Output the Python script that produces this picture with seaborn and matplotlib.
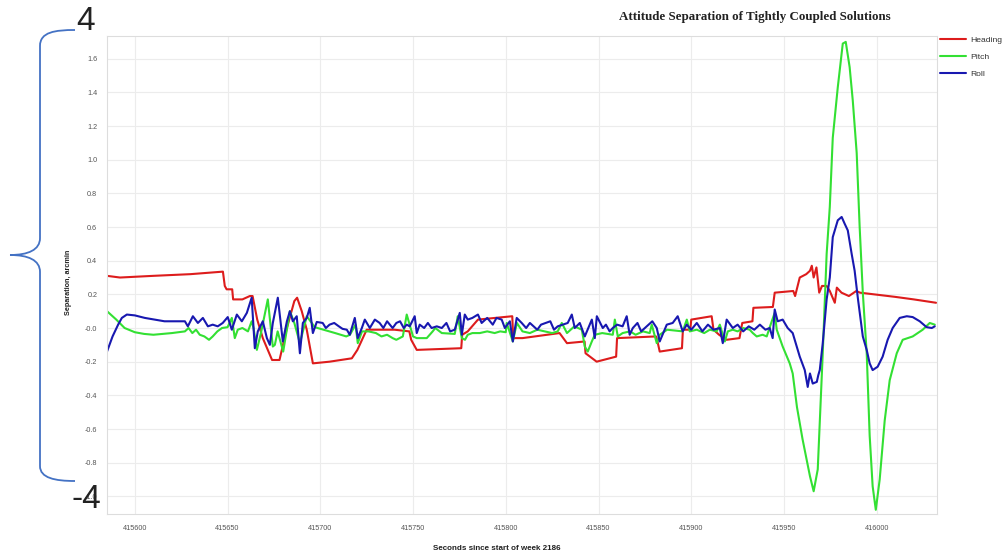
import numpy as np
import pandas as pd
import matplotlib
matplotlib.use("Agg")
import matplotlib.pyplot as plt
from matplotlib.path import Path
from matplotlib.patches import PathPatch
from matplotlib.lines import Line2D
import seaborn as sns

# ---------------- data ----------------
heading_t = [415585, 415592, 415610, 415630, 415647.5, 415648.5, 415649.5, 415652.5, 415653, 415658,
             415662, 415663.5, 415666, 415669, 415674, 415678, 415682, 415686, 415687.5, 415690,
             415692.7, 415696, 415705, 415717, 415720, 415725, 415740, 415748, 415749, 415752,
             415776, 415776.5, 415779.5, 415785, 415803.5, 415804, 415809, 415829, 415833, 415842.5,
             415843, 415849, 415859.5, 415860, 415881, 415882, 415883, 415895, 415895.5, 415899.5,
             415900, 415911, 415912, 415915, 415919, 415926, 415927.5, 415933, 415933.5, 415944,
             415945, 415955, 415956, 415958.5, 415962, 415964, 415965, 415966, 415967.5, 415969,
             415970.5, 415973, 415974.7, 415977.4, 415978.5, 415981, 415985, 415989, 415991, 416010,
             416020, 416032]
heading_v = [0.31, 0.30, 0.31, 0.32, 0.335, 0.25, 0.23, 0.23, 0.17, 0.17,
             0.19, 0.19, 0.05, -0.06, -0.19, -0.19, 0.0, 0.16, 0.18, 0.10,
             -0.01, -0.21, -0.20, -0.18, -0.13, -0.01, -0.01, -0.02, -0.07, -0.13,
             -0.12, -0.04, -0.02, 0.05, 0.07, -0.06, -0.06, -0.03, -0.09, -0.08,
             -0.15, -0.20, -0.17, -0.06, -0.05, -0.09, -0.14, -0.12, -0.01, -0.01,
             0.05, 0.07, -0.01, -0.04, -0.07, -0.06, 0.03, 0.04, 0.12, 0.125,
             0.21, 0.22, 0.19, 0.30, 0.32, 0.34, 0.37, 0.30, 0.36, 0.21,
             0.25, 0.25, 0.22, 0.15, 0.24, 0.21, 0.19, 0.22, 0.21, 0.185,
             0.17, 0.15]

pitch_t = [415585, 415590, 415594.5, 415600, 415605, 415610, 415620, 415627, 415629, 415631,
           415633, 415635, 415637.5, 415640, 415642, 415644.5, 415647, 415650, 415652.3, 415653.9,
           415655.5, 415658, 415661, 415663, 415664, 415665.8, 415668, 415671.7, 415674.4, 415675.5,
           415677, 415680, 415683.6, 415686, 415689, 415692.7, 415695.4, 415697, 415705, 415708,
           415711, 415714, 415716, 415719, 415720.2, 415722.5, 415726, 415730, 415733, 415736,
           415739, 415741, 415744.5, 415746.6, 415750, 415752, 415757.4, 415760.6, 415762, 415765.5,
           415772.5, 415774.1, 415776.3, 415778, 415779.5, 415782, 415786, 415790, 415794, 415797,
           415800, 415800.5, 415803.8, 415806, 415809, 415813, 415817, 415821, 415825, 415828,
           415830.2, 415833, 415837, 415841, 415842.6, 415844.2, 415846.4, 415848, 415852, 415857.7,
           415858.8, 415860.4, 415863, 415867, 415870, 415874, 415877.6, 415878.7, 415881.4, 415883,
           415887, 415895.4, 415897.6, 415899.2, 415903, 415907, 415910, 415913.7, 415915.4, 415918.1,
           415919.7, 415922.4, 415925, 415928, 415931.5, 415933.2, 415935.3, 415938.5, 415940.7, 415943.4,
           415945, 415946.1, 415949.3, 415953.1, 415954.7, 415957, 415960, 415964, 415966, 415968.2,
           415970.9, 415973, 415974.7, 415976.3, 415979, 415981.7, 415983.3, 415985.4, 415987.1, 415989.2,
           415990.8, 415992.5, 415994.6, 415996.2, 415997.8, 415999.5, 416001.6, 416004.3, 416007, 416010.8,
           416014, 416019.4, 416024.8, 416028.6, 416031.3]
pitch_v = [0.10, 0.05, 0.0, -0.025, -0.035, -0.04, -0.03, -0.02, 0.0, -0.03,
           -0.01, -0.04, -0.05, -0.07, -0.05, -0.02, 0.0, 0.005, 0.06, -0.06,
           -0.01, 0.0, -0.02, 0.04, 0.0, -0.13, -0.03, 0.17, -0.11, -0.10,
           -0.02, -0.14, 0.10, 0.03, -0.09, 0.07, 0.03, 0.005, -0.02, -0.03,
           -0.04, -0.05, -0.04, 0.02, -0.09, -0.02, -0.02, -0.03, -0.05, -0.04,
           -0.06, -0.07, -0.05, 0.08, -0.05, -0.06, -0.06, -0.02, 0.0, -0.03,
           -0.035, 0.07, -0.06, -0.07, -0.04, -0.03, -0.03, -0.02, -0.03, -0.02,
           -0.025, 0.03, -0.08, 0.03, -0.02, -0.03, -0.01, -0.02, -0.03, -0.02,
           0.03, -0.03, 0.01, -0.01, -0.11, -0.14, -0.08, -0.04, -0.03, -0.04,
           0.05, -0.05, -0.03, -0.02, -0.04, -0.02, -0.03, 0.02, -0.09, -0.04,
           -0.01, -0.02, 0.05, -0.02, -0.01, -0.03, -0.01, -0.02, 0.02, -0.08,
           -0.02, -0.01, -0.02, 0.0, -0.01, -0.03, -0.05, -0.04, -0.05, 0.04,
           0.09, -0.01, -0.11, -0.21, -0.27, -0.47, -0.66, -0.88, -0.97, -0.84,
           -0.15, 0.44, 0.72, 1.13, 1.43, 1.69, 1.70, 1.55, 1.35, 1.04,
           0.60, 0.21, -0.15, -0.64, -0.94, -1.08, -0.90, -0.55, -0.31, -0.15,
           -0.07, -0.05, -0.01, 0.03, 0.02]

roll_t = [415585, 415588, 415591, 415593, 415595.7, 415600, 415605.4, 415616, 415627, 415628.6,
          415631.3, 415634, 415636.7, 415639.4, 415642, 415644.7, 415647.4, 415650.1, 415652.3, 415655,
          415657.7, 415660.4, 415663, 415664.7, 415666.3, 415669, 415671.2, 415672.8, 415674.4, 415677.1,
          415679.8, 415682, 415683.6, 415685.2, 415687.3, 415689, 415690.6, 415692.7, 415694.3, 415696,
          415698.1, 415701.3, 415703, 415705, 415707.5, 415710, 415712, 415714.3, 415715.9, 415718.6,
          415720.2, 415722.4, 415724, 415726.7, 415729.4, 415732, 415734, 415736, 415739, 415741,
          415743, 415745, 415746.6, 415748.2, 415750.9, 415752, 415753.6, 415756, 415758, 415760,
          415762.8, 415765.5, 415768, 415770, 415772.5, 415775.2, 415776.3, 415777.9, 415779.5, 415782,
          415785, 415787, 415790, 415793, 415795, 415797.8, 415799.5, 415802.2, 415803.8, 415805.9,
          415808.6, 415811, 415813, 415817, 415819, 415824, 415826, 415828, 415833.4, 415835.6,
          415837.2, 415839.9, 415842.6, 415846.4, 415848, 415849.1, 415852.3, 415854, 415856, 415857.7,
          415860, 415863, 415865.2, 415866.8, 415868.5, 415871, 415873, 415876, 415879, 415881.4,
          415883, 415886.8, 415890, 415892.7, 415895.4, 415897.6, 415900, 415903, 415906, 415909,
          415912, 415915.4, 415917, 415919.1, 415922.4, 415925, 415928, 415931, 415934, 415937,
          415940, 415942.3, 415943.4, 415943.9, 415945, 415946.6, 415949.3, 415952, 415954.7, 415956.9,
          415958.5, 415961.2, 415962.8, 415964, 415965.5, 415967.7, 415968.5, 415969.3, 415970.9, 415973,
          415974.7, 415976.3, 415979, 415981.1, 415982.7, 415984.4, 415986.5, 415988.1, 415989.8, 415992.5,
          415994.6, 415996.2, 415997.8, 416000.5, 416003.2, 416005.9, 416008.6, 416012.4, 416016.2, 416019.4,
          416023.2, 416026.9, 416029.7, 416031.3]
roll_v = [-0.14, -0.05, 0.02, 0.06, 0.08, 0.075, 0.06, 0.04, 0.04, 0.01,
          0.07, 0.03, 0.06, 0.01, 0.02, 0.01, 0.03, 0.065, -0.01, 0.08,
          0.04, 0.09, 0.18, -0.12, -0.02, 0.04, -0.06, -0.10, 0.03, 0.18,
          -0.08, 0.04, 0.10, 0.04, 0.07, -0.15, 0.03, 0.06, 0.12, -0.03,
          0.036, 0.03, 0.0, 0.02, 0.03, 0.01, -0.005, -0.01, -0.04, 0.06,
          -0.06, 0.0, 0.05, 0.0, 0.05, 0.03, 0.0, 0.04, 0.0, 0.03,
          0.04, 0.0, 0.02, 0.01, 0.07, -0.03, 0.02, 0.0, 0.03, 0.0,
          0.01, 0.0, 0.03, -0.02, -0.01, 0.09, -0.04, 0.08, 0.05, 0.06,
          0.08, 0.03, 0.06, 0.02, 0.06, 0.05, 0.0, 0.04, -0.08, 0.06,
          0.03, 0.0, 0.03, -0.01, 0.02, 0.04, -0.01, 0.01, 0.03, 0.08,
          0.0, 0.03, -0.05, 0.05, -0.06, 0.07, 0.0, 0.02, -0.02, 0.0,
          0.02, 0.01, 0.07, -0.04, 0.0, 0.03, -0.02, 0.01, 0.04, 0.0,
          -0.08, 0.02, 0.03, 0.07, -0.02, 0.02, -0.01, 0.03, -0.02, 0.02,
          -0.01, 0.0, -0.09, 0.05, 0.0, 0.02, -0.02, 0.01, -0.01, 0.02,
          -0.01, 0.0, -0.04, -0.06, 0.11, 0.04, 0.05, 0.0, -0.03, -0.11,
          -0.17, -0.25, -0.35, -0.27, -0.33, -0.32, -0.28, -0.25, -0.09, 0.17,
          0.30, 0.54, 0.64, 0.66, 0.62, 0.58, 0.44, 0.34, 0.18, -0.05,
          -0.13, -0.21, -0.25, -0.23, -0.17, -0.07, 0.0, 0.06, 0.07, 0.065,
          0.04, 0.005, 0.0, 0.01]

x_ticks = [415600, 415650, 415700, 415750, 415800, 415850, 415900, 415950, 416000]
y_ticks = [-1.0, -0.8, -0.6, -0.4, -0.2, 0.0, 0.2, 0.4, 0.6, 0.8, 1.0, 1.2, 1.4, 1.6]
y_tick_labels = ["-1.0", "-0.8", "-0.6", "-0.4", "-0.2", "-0.0", "0.2", "0.4", "0.6",
                 "0.8", "1.0", "1.2", "1.4", "1.6"]
series_names = ["Heading", "Pitch", "Roll"]
series_colors = ["#dd1c1c", "#33e033", "#1818b0"]

title = "Attitude Separation of Tightly Coupled Solutions"
x_label = "Seconds since start of week 2186"
y_label = "Separation, arcmin"
bracket_top_label = "4"
bracket_bottom_label = "-4"

# ---------------- plot ----------------
sns.set_theme(style="whitegrid")
plt.rcParams["font.family"] = ["Liberation Sans", "DejaVu Sans"]

W, H = 1005, 555
fig = plt.figure(figsize=(W / 100, H / 100), dpi=100)
ax = fig.add_axes([107 / W, 1 - 514 / H, (937 - 107) / W, (514 - 36) / H])

frames = []
for name, t, v in zip(series_names, [heading_t, pitch_t, roll_t], [heading_v, pitch_v, roll_v]):
    frames.append(pd.DataFrame({"t": t, "v": v, "series": name}))
df = pd.concat(frames, ignore_index=True)

sns.lineplot(data=df, x="t", y="v", hue="series", hue_order=series_names,
             palette=series_colors, estimator=None, sort=False, linewidth=1.5, ax=ax,
             legend=False)

ax.set_xlim(415585, 416032.5)
ax.set_ylim(-1.105, 1.735)
ax.set_xticks(x_ticks)
ax.set_xticklabels([str(x) for x in x_ticks])
ax.set_yticks(y_ticks)
ax.set_yticklabels(y_tick_labels)
ax.tick_params(axis="both", length=0, labelsize=5.2, labelcolor="#555555")
ax.tick_params(axis="x", pad=8)
ax.tick_params(axis="y", pad=7)
ax.grid(True, color="#ececec", linewidth=0.8)
for s in ax.spines.values():
    s.set_color("#dddddd")
    s.set_linewidth(0.8)
ax.set_facecolor("white")
ax.set_xlabel("")
ax.set_ylabel("")

fig.text(497 / W, 1 - 548 / H, x_label, ha="center", va="center", fontsize=5.8,
         fontweight="bold", color="#222222")
fig.text(68 / W, 1 - 282 / H, y_label, ha="center", va="center", rotation=90,
         fontsize=5.2, fontweight="bold", color="#222222")
fig.text(755 / W, 1 - 17 / H, title, ha="center", va="center", fontsize=9.4,
         fontweight="bold", family=["Liberation Serif", "DejaVu Serif"], color="#222222")

# legend
handles = [Line2D([], [], color=c, linewidth=1.5) for c in series_colors]
fig.legend(handles, series_names, loc="upper left", bbox_to_anchor=(937 / W, 1 - 33 / H),
           frameon=False, fontsize=6.1, handlelength=3.0, handletextpad=0.5,
           labelspacing=1.05, borderaxespad=0, labelcolor="#333333")

# bracket annotation
def P(px, py):
    return (px / W, 1 - py / H)

verts = [P(75, 30), P(55, 30), P(40, 32), P(40, 46),
         P(40, 238),
         P(40, 250), P(28, 255), P(10, 255),
         P(28, 255), P(40, 260), P(40, 272),
         P(40, 466),
         P(40, 478), P(55, 481), P(75, 481)]
codes = [Path.MOVETO, Path.CURVE4, Path.CURVE4, Path.CURVE4,
         Path.LINETO,
         Path.CURVE4, Path.CURVE4, Path.CURVE4,
         Path.CURVE4, Path.CURVE4, Path.CURVE4,
         Path.LINETO,
         Path.CURVE4, Path.CURVE4, Path.CURVE4]
fig.patches.append(PathPatch(Path(verts, codes), facecolor="none", edgecolor="#4472c4",
                             linewidth=1.3, transform=fig.transFigure))
fig.text(86 / W, 1 - 22 / H, bracket_top_label, ha="center", va="center", fontsize=24,
         color="#222222")
fig.text(86 / W, 1 - 500 / H, bracket_bottom_label, ha="center", va="center", fontsize=24,
         color="#222222")

fig.savefig("out.png", dpi=100, facecolor="white")
